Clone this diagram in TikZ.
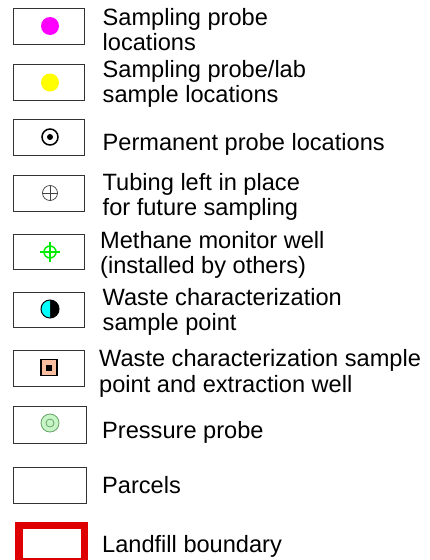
\documentclass[tikz,border=0pt]{standalone}
\usepackage{fontspec}
\setmainfont{Liberation Sans}
\definecolor{magentadot}{RGB}{255,0,255}
\definecolor{yellowdot}{RGB}{255,255,0}
\definecolor{cyanhalf}{RGB}{0,255,255}
\definecolor{peach}{RGB}{250,190,160}
\definecolor{palegreen}{RGB}{200,245,200}
\definecolor{bndred}{RGB}{222,0,0}
\definecolor{methgreen}{RGB}{0,235,0}

\begin{document}
\begin{tikzpicture}[x=1pt,y=-1pt,
	legbox/.style={draw=black!80,line width=1pt},
	lbl/.style={anchor=base west,align=left,inner sep=0pt,font=\fontsize{23.6}{25.5}\selectfont}]
		\clip (0,0) rectangle (429,560);
		\draw[legbox] (13,8.5) rectangle (84,44.5);
		\fill[magentadot] (50,26) circle [radius=9];
		\node[lbl] (probe) at (102.5,50.5) {Sampling probe\\locations};
		\draw[legbox] (13,64) rectangle (84,100);
		\fill[yellowdot] (50,82.5) circle [radius=9];
		\node[lbl] (lab) at (102.5,102.5) {Sampling probe/lab\\sample locations};
		\draw[legbox] (13,119) rectangle (84,155);
		\draw[line width=1.5pt] (50,137) circle [radius=8];
		\fill (50,137) circle [radius=3];
		\node[lbl] (perm) at (102.5,150) {Permanent probe locations};
		\draw[legbox] (13,175) rectangle (84,211);
		\draw[black!75,line width=0.7pt] (50,193) circle [radius=7.5];
		\draw[black!75,line width=0.7pt] (42.5,193) -- (57.5,193) (50,185.5) -- (50,200.5);
		\node[lbl] (tube) at (102.5,215.5) {Tubing left in place\\for future sampling};
		\draw[legbox] (13,234) rectangle (84,269.5);
		\draw[methgreen,line width=1.5pt] (50,252) circle [radius=6];
		\draw[methgreen,line width=1.5pt] (40,252) -- (60,252) (50,242) -- (50,262);
		\node[lbl] (meth) at (100,273.5) {Methane monitor well\\(installed by others)};
		\draw[legbox] (13,292) rectangle (84,327.5);
		\fill (50,309) circle [radius=9];
		\begin{scope}
			\clip (40,298) rectangle (50,320);
			\fill[cyanhalf] (50,309) circle [radius=9];
		\end{scope}
		\draw[line width=1pt] (50,309) circle [radius=9];
		\node[lbl] (waste) at (102.5,330.5) {Waste characterization\\sample point};
		\draw[legbox] (13,350) rectangle (84,386.5);
		\filldraw[fill=peach,draw=black,line width=1.5pt] (41,359.5) rectangle (57,375.5);
		\fill (46,364.5) rectangle (52,370.5);
		\node[lbl] (well) at (99,392) {Waste characterization sample\\point and extraction well};
		\draw[legbox] (13.5,406.5) rectangle (86,443);
		\filldraw[fill=palegreen,draw=black!60!green!60,line width=0.8pt] (50,423) circle [radius=9];
		\draw[black!60!green!60,line width=0.8pt] (50,423) circle [radius=4];
		\node[lbl] (press) at (102,438) {Pressure probe};
		\draw[legbox] (13.5,467) rectangle (86,503);
		\node[lbl] (parc) at (102,493) {Parcels};
		\draw[bndred,line width=7.5pt] (18.8,525.5) rectangle (84.4,562);
		\node[lbl] (bnd) at (102,552) {Landfill boundary};
\end{tikzpicture}
\end{document}
